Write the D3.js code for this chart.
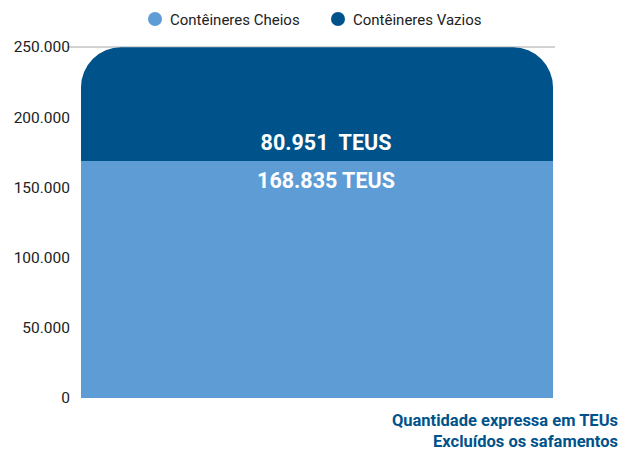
<!DOCTYPE html>
<meta charset="utf-8">
<html>
<head>
<style>
  body { margin: 0; background: #fff; }
  text { font-family: Roboto, "Noto Sans", sans-serif; }
</style>
</head>
<body>
<div id="chart"></div>
<script src="https://d3js.org/d3.v7.min.js"></script>
<script>
    // data
    let seriesNames = ['Contêineres Cheios', 'Contêineres Vazios'];
    let seriesColors = ['#5e9cd5', '#00538a'];
    let seriesValues = [168835, 80951];
    let barLabels = ['168.835 TEUS', '80.951  TEUS'];
    let yTicks = [0, 50000, 100000, 150000, 200000, 250000];
    let notes = ['Quantidade expressa em TEUs', 'Excluídos os safamentos'];

    let width = 635, height = 453;
    let fmt = d3.format(',');
    let fmtBR = v => fmt(v).replace(/,/g, '.');

    let svg = d3.select('#chart').append('svg')
        .attr('width', width).attr('height', height);

    let y = d3.scaleLinear().domain([0, 250000]).range([398, 47]);
    let x0 = 81, x1 = 553;

    // top gridline
    svg.append('line')
        .attr('x1', 67).attr('x2', 555)
        .attr('y1', y(250000)).attr('y2', y(250000))
        .attr('stroke', '#a6a6a6').attr('stroke-width', 1);

    // y axis labels
    let yAxis = svg.append('g')
        .attr('transform', 'translate(70,0)')
        .call(d3.axisLeft(y).tickValues(yTicks).tickFormat(fmtBR).tickSize(0).tickPadding(0));
    yAxis.select('.domain').remove();
    yAxis.selectAll('text')
        .attr('font-size', 15.5).attr('fill', '#222')
        .attr('font-family', 'Roboto');

    // stacked bar
    let stacked = [];
    let acc = 0;
    seriesValues.forEach((v, i) => {
        stacked.push({ y0: acc, y1: acc + v, i: i });
        acc += v;
    });

    let r = 40;
    stacked.forEach((d, k) => {
        let top = y(d.y1), bot = y(d.y0);
        let path;
        if (k === stacked.length - 1) {
            path = `M${x0},${bot} L${x0},${top + r} A${r},${r} 0 0 1 ${x0 + r},${top}
                    L${x1 - r},${top} A${r},${r} 0 0 1 ${x1},${top + r} L${x1},${bot} Z`;
        } else {
            path = `M${x0},${bot} L${x0},${top} L${x1},${top} L${x1},${bot} Z`;
        }
        svg.append('path').attr('d', path).attr('fill', seriesColors[d.i]);
    });

    // bar labels
    let cx = (x0 + x1) / 2 + 9;
    svg.append('text')
        .attr('x', cx).attr('y', y(stacked[1].y0) - 11)
        .attr('text-anchor', 'middle')
        .attr('font-size', 21.5).attr('font-weight', 'bold').attr('fill', '#fff')
        .style('white-space', 'pre')
        .text(barLabels[1]);
    svg.append('text')
        .attr('x', cx).attr('y', y(stacked[0].y1) + 27)
        .attr('text-anchor', 'middle')
        .attr('font-size', 21.5).attr('font-weight', 'bold').attr('fill', '#fff')
        .text(barLabels[0]);

    // legend
    let legendX = [155, 338];
    seriesNames.forEach((n, i) => {
        svg.append('circle').attr('cx', legendX[i]).attr('cy', 19).attr('r', 7)
            .attr('fill', seriesColors[i]);
        svg.append('text').attr('x', legendX[i] + 15).attr('y', 24.5)
            .attr('font-size', 15).attr('fill', '#222').text(n);
    });

    // notes
    notes.forEach((t, i) => {
        svg.append('text').attr('x', 618).attr('y', 426 + i * 21)
            .attr('text-anchor', 'end')
            .attr('font-size', 16.5).attr('font-weight', 'bold').attr('fill', '#00538a')
            .text(t);
    });
</script>
</body>
</html>
